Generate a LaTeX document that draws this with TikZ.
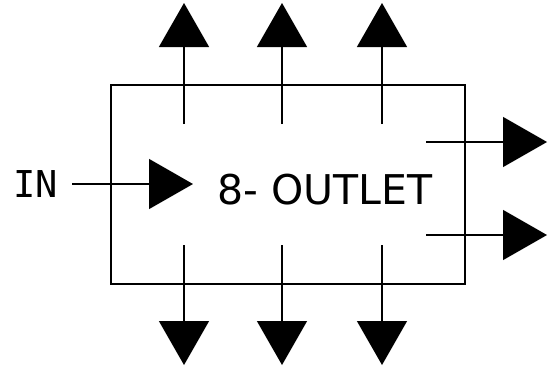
\documentclass[tikz,border=0pt]{standalone}
\usepackage{fontspec}
\setmainfont{DejaVu Sans}
\newfontfamily\monofont{DejaVu Sans Mono}
\usetikzlibrary{arrows.meta}
\tikzset{
  wire/.style={line width=1.3pt, -{Triangle[width=50pt,length=44pt]}},
  outletbox/.style={draw, line width=1.3pt, minimum width=354pt, minimum height=199pt, inner sep=0pt},
}
\begin{document}
\begin{tikzpicture}[x=1pt,y=1pt]
\useasboundingbox (0,0) rectangle (553,368);
\node[outletbox] (box) at (288,183.5) {};
\node[font=\fontsize{41}{41}\selectfont, inner sep=0pt] (lbl) at (325,178) {8- OUTLET};
\node[font=\monofont\fontsize{37}{37}\selectfont, inner sep=0pt] (in) at (36,184) {IN};
% input
\coordinate (i0) at (72,184);
\coordinate (i1) at (193,184);
\draw[wire] (i0) -- (i1);
% top outlets
\foreach \x [count=\k] in {184,282,382}{
  \coordinate (t\k a) at (\x,244);
  \coordinate (t\k b) at (\x,365);
  \draw[wire] (t\k a) -- (t\k b);
  \coordinate (b\k a) at (\x,123);
  \coordinate (b\k b) at (\x,3);
  \draw[wire] (b\k a) -- (b\k b);
}
% right outlets
\foreach \y [count=\k] in {226,133}{
  \coordinate (r\k a) at (426,\y);
  \coordinate (r\k b) at (547,\y);
  \draw[wire] (r\k a) -- (r\k b);
}
\end{tikzpicture}
\end{document}
